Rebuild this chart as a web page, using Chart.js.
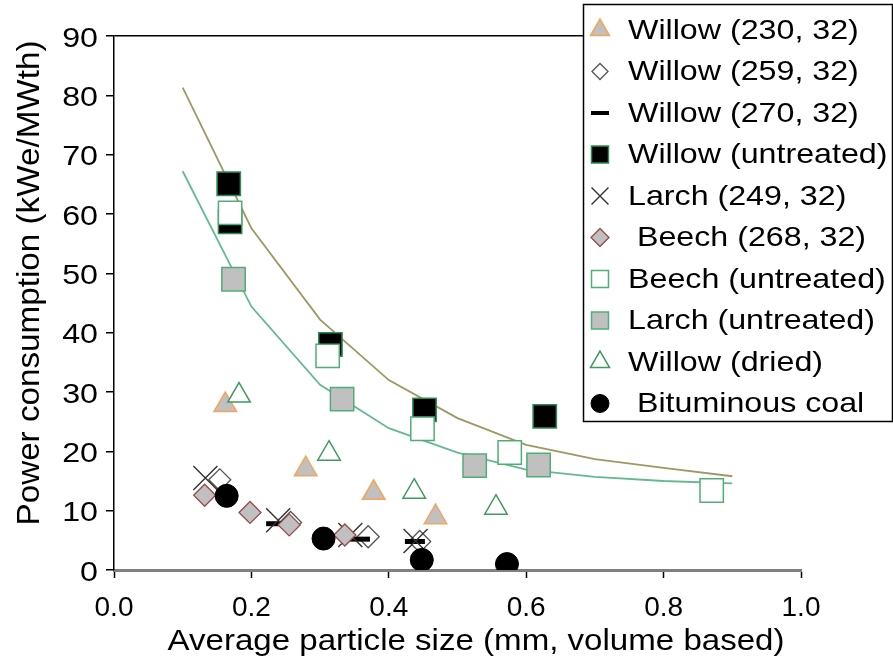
<!DOCTYPE html>
<html>
<head>
<meta charset="utf-8">
<script src="https://cdn.jsdelivr.net/npm/chart.js@4.4.0/dist/chart.umd.min.js"></script>
<style>
  html, body { margin: 0; padding: 0; background: #fff; }
  #wrap { width: 893px; height: 661px; position: relative; }
</style>
</head>
<body>
<div id="wrap"><canvas id="power-chart"></canvas></div>
<script>
// values (x = mm, y = kWe/MWth)
const willow230X = [0.162, 0.279, 0.378, 0.468];
const willow230Y = [27.8, 17.0, 13.0, 8.9];
const willow259X = [0.154, 0.257, 0.370, 0.445];
const willow259Y = [15.2, 8.0, 5.6, 4.8];
const willow270X = [0.236, 0.358, 0.438];
const willow270Y = [7.8, 5.2, 4.8];
const willowRawX = [0.167, 0.169, 0.315, 0.452, 0.627];
const willowRawY = [65.1, 58.7, 38.0, 27.0, 25.9];
const larch249X = [0.133, 0.239, 0.344, 0.439];
const larch249Y = [15.5, 8.4, 5.9, 4.9];
const beech268X = [0.132, 0.198, 0.255, 0.336];
const beech268Y = [12.6, 9.7, 7.6, 5.9];
const beechRawX = [0.169, 0.311, 0.449, 0.576, 0.870];
const beechRawY = [60.2, 36.1, 23.8, 19.8, 13.4];
const larchRawX = [0.174, 0.332, 0.525, 0.618];
const larchRawY = [49.0, 28.8, 17.6, 17.7];
const willowDriedX = [0.182, 0.313, 0.437, 0.556];
const willowDriedY = [29.4, 19.6, 13.2, 10.5];
const coalX = [0.164, 0.305, 0.448, 0.572];
const coalY = [12.5, 5.3, 1.7, 1.0];

// the two fitted curves
const fitX = [0.1, 0.2, 0.3, 0.4, 0.5, 0.6, 0.7, 0.8, 0.9];
const fitUpperY = [81.3, 57.6, 42.2, 32.0, 25.6, 21.1, 18.7, 17.2, 15.8];
const fitLowerY = [67.2, 44.4, 31.2, 23.9, 19.8, 16.9, 15.7, 15.0, 14.6];

const xTicks = [0, 0.2, 0.4, 0.6, 0.8, 1.0];

const FONT = '"Liberation Sans", Arial, sans-serif';

const pts = (xs, ys) => xs.map((x, i) => ({ x, y: ys[i] }));

function series(label, xs, ys, style, idx) {
  return Object.assign({
    label,
    data: pts(xs, ys),
    showLine: false,
    order: 10 - idx,
  }, style);
}

const datasets = [
  series('Willow (230, 32)', willow230X, willow230Y, {
    pointStyle: 'triangle', pointRadius: 13, backgroundColor: '#c0c0c0',
    borderColor: '#f5a55a', borderWidth: 1.5, legendRadius: 11,
  }, 0),
  series('Willow (259, 32)', willow259X, willow259Y, {
    pointStyle: 'rectRot', pointRadius: 11, backgroundColor: '#ffffff',
    borderColor: '#555555', borderWidth: 1.3, legendRadius: 8,
  }, 1),
  series('Willow (270, 32)', willow270X, willow270Y, {
    pointStyle: 'line', pointRadius: 10, backgroundColor: '#000000',
    borderColor: '#000000', borderWidth: 5, legendRadius: 9,
  }, 2),
  series('Willow (untreated)', willowRawX, willowRawY, {
    pointStyle: 'rect', pointRadius: 16.5, backgroundColor: '#000000',
    borderColor: '#2e8b57', borderWidth: 1.5, legendRadius: 12,
  }, 3),
  series('Larch (249, 32)', larch249X, larch249Y, {
    pointStyle: 'crossRot', pointRadius: 17, backgroundColor: '#333333',
    borderColor: '#333333', borderWidth: 1.4, legendRadius: 12,
  }, 4),
  series(' Beech (268, 32)', beech268X, beech268Y, {
    pointStyle: 'rectRot', pointRadius: 11, backgroundColor: '#c0c0c0',
    borderColor: '#9a4a4a', borderWidth: 1.3, legendRadius: 9,
  }, 5),
  series('Beech (untreated)', beechRawX, beechRawY, {
    pointStyle: 'rect', pointRadius: 16.5, backgroundColor: '#ffffff',
    borderColor: '#4fae78', borderWidth: 1.5, legendRadius: 12,
  }, 6),
  series('Larch (untreated)', larchRawX, larchRawY, {
    pointStyle: 'rect', pointRadius: 16.5, backgroundColor: '#c0c0c0',
    borderColor: '#4fae78', borderWidth: 1.5, legendRadius: 12,
  }, 7),
  series('Willow (dried)', willowDriedX, willowDriedY, {
    pointStyle: 'triangle', pointRadius: 13, backgroundColor: '#ffffff',
    borderColor: '#3f9a5f', borderWidth: 1.5, legendRadius: 11,
  }, 8),
  series(' Bituminous coal', coalX, coalY, {
    pointStyle: 'circle', pointRadius: 11.5, backgroundColor: '#000000',
    borderColor: '#000000', borderWidth: 1, legendRadius: 9,
  }, 9),
  {
    label: 'fit upper', data: pts(fitX, fitUpperY), showLine: true,
    borderColor: '#9e9862', borderWidth: 1.8, pointRadius: 0, tension: 0,
    order: 20, inLegend: false,
  },
  {
    label: 'fit lower', data: pts(fitX, fitLowerY), showLine: true,
    borderColor: '#62bb8e', borderWidth: 1.8, pointRadius: 0, tension: 0,
    order: 21, inLegend: false,
  },
];

// text with horizontal stretch to match the wide look of the source
function stretchedText(ctx, text, x, y, font, width, align) {
  ctx.save();
  ctx.font = font;
  const w = ctx.measureText(text).width;
  const sx = width / w;
  ctx.translate(x, y);
  ctx.scale(sx, 1);
  ctx.textAlign = align || 'left';
  ctx.fillText(text, 0, 0);
  ctx.restore();
}

function scaledText(ctx, text, x, y, font, sx, align) {
  ctx.save();
  ctx.font = font;
  ctx.translate(x, y);
  ctx.scale(sx, 1);
  ctx.textAlign = align || 'left';
  ctx.fillText(text, 0, 0);
  ctx.restore();
}

const decorations = {
  id: 'decorations',
  afterDraw(chart) {
    const ctx = chart.ctx;
    ctx.save();
    ctx.fillStyle = '#000';
    ctx.textBaseline = 'middle';

    // y tick labels, placed by the y scale
    const ys = chart.scales.y;
    ys.ticks.forEach(t => {
      const py = ys.getPixelForValue(t.value);
      scaledText(ctx, String(t.value), 98, py + 3, '28px ' + FONT, 1.15, 'right');
    });

    // axis titles
    stretchedText(ctx, 'Average particle size (mm, volume based)', 476, 642,
      '30px ' + FONT, 617, 'center');
    ctx.save();
    ctx.translate(30, 283);
    ctx.rotate(-Math.PI / 2);
    stretchedText(ctx, 'Power consumption (kWe/MWth)', 0, 0, '31px ' + FONT, 485, 'center');
    ctx.restore();

    // legend box
    ctx.fillStyle = '#fff';
    ctx.fillRect(583, 4, 309, 417);
    ctx.strokeStyle = '#000';
    ctx.lineWidth = 1.5;
    ctx.strokeRect(583.5, 4.5, 309, 417);

    const items = chart.data.datasets.filter(d => d.inLegend !== false);
    items.forEach((ds, i) => {
      const cy = 30 + i * 41.5;
      ctx.fillStyle = ds.backgroundColor;
      ctx.strokeStyle = ds.borderColor;
      ctx.lineWidth = ds.pointStyle === 'line' ? 4 : ds.borderWidth;
      Chart.helpers.drawPoint(ctx, {
        pointStyle: ds.pointStyle, radius: ds.legendRadius, rotation: 0,
        borderWidth: ds.borderWidth,
      }, 600, cy);
      ctx.fillStyle = '#000';
      scaledText(ctx, ds.label, 628, cy + 1, '28px ' + FONT, 1.15, 'left');
    });
    ctx.restore();
  },
};

new Chart(document.getElementById('power-chart'), {
  type: 'scatter',
  data: { datasets },
  options: {
    responsive: true,
    maintainAspectRatio: false,
    animation: false,
    events: [],
    layout: { padding: { left: 0, top: 36, right: 92, bottom: 0 } },
    plugins: {
      legend: { display: false },
      tooltip: { enabled: false },
    },
    scales: {
      x: {
        type: 'linear',
        min: 0,
        max: 1,
        afterBuildTicks: (s) => { s.ticks = xTicks.map(v => ({ value: v })); },
        afterFit: (s) => { s.height = 91; },
        border: { color: '#808080', width: 3 },
        grid: { drawOnChartArea: false, tickColor: '#000', tickLength: 8, tickWidth: 1.5 },
        ticks: {
          color: '#000',
          padding: 13,
          font: { family: FONT, size: 28 },
          callback: (v) => Number(v).toFixed(1),
        },
      },
      y: {
        min: 0,
        max: 90,
        afterFit: (s) => { s.width = 114; },
        border: { color: '#000', width: 1.5 },
        grid: {
          drawOnChartArea: true,
          color: (c) => (c.tick && c.tick.value === 90 ? '#000' : 'rgba(0,0,0,0)'),
          lineWidth: 1.5,
          tickColor: '#000',
          tickLength: 8,
          tickWidth: 1.5,
        },
        ticks: {
          stepSize: 10,
          display: false,
        },
      },
    },
  },
  plugins: [decorations],
});
</script>
</body>
</html>
